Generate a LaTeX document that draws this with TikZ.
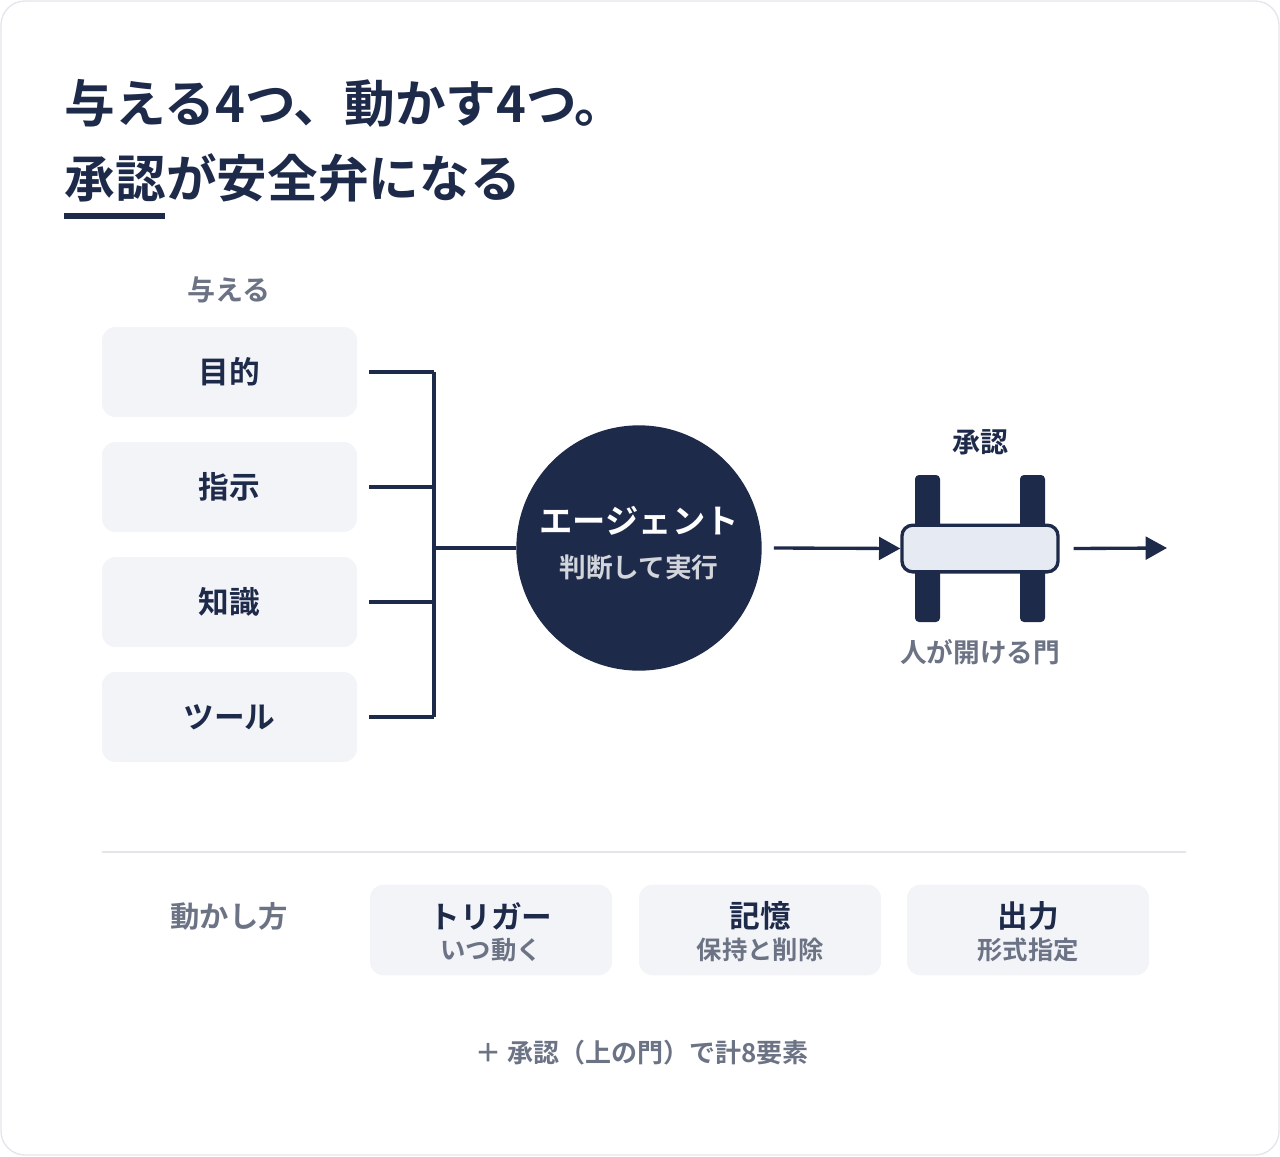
\documentclass[tikz,border=0pt]{standalone}
\usepackage{fontspec}
\setmainfont{Noto Sans CJK JP}
\newfontfamily\jpbold{Noto Sans CJK JP Bold}
\usetikzlibrary{positioning,calc,arrows.meta}
\definecolor{navy}{HTML}{1E2A4A}
\definecolor{muted}{HTML}{6B7385}
\definecolor{boxfill}{HTML}{F3F4F8}
\definecolor{barfill}{HTML}{E6EAF3}
\definecolor{rulegray}{HTML}{E3E5EA}
\newcommand{\fs}[1]{\fontsize{#1}{#1}\selectfont}
\tikzset{
  give/.style={rectangle,rounded corners=10pt,fill=boxfill,minimum width=191.25pt,minimum height=67.5pt,font=\jpbold\fs{23}\color{navy}},
  move/.style={rectangle,rounded corners=10pt,fill=boxfill,minimum width=181.5pt,minimum height=68pt,align=center},
  link/.style={navy,line width=2.5pt},
  arr/.style={navy,line width=2.5pt,-{Triangle[length=16pt,width=17pt]}},
  post/.style={fill=navy,rounded corners=3pt}
}
\begin{document}
\begin{tikzpicture}[x=0.75pt,y=-0.75pt]
\useasboundingbox (0,0) rectangle (1280,1156);
\draw[rulegray,line width=1pt,rounded corners=18pt] (1,1) rectangle (1279,1155);
% title
\node[anchor=west,font=\jpbold\fs{38},text=navy] (t1) at (60,103) {与える4つ、動かす4つ。};
\node[anchor=west,font=\jpbold\fs{38},text=navy] (t2) at (60,178) {承認が安全弁になる};
\fill[navy] (64,213) rectangle (165,219);
% give
\node[font=\jpbold\fs{21},text=muted] (givelbl) at (229,290) {与える};
\node[give] (goal) at (229.5,372) {目的};
\node[give] (inst) at (229.5,487) {指示};
\node[give] (know) at (229.5,602) {知識};
\node[give] (tool) at (229.5,717) {ツール};
\coordinate (bt) at (434,372);
\coordinate (bb) at (434,717);
\coordinate (bm) at (434,548);
\foreach \n in {goal,inst,know,tool}
  \draw[link] ($(\n.east)+(12,0)$) -- (\n.east -| bt);
\draw[link] (bt) -- (bb);
% agent
\node[circle,fill=navy,minimum size=184pt,inner sep=0pt] (agent) at (639,548) {};
\node[font=\jpbold\fs{25},text=white] (agentlbl) at (639,521) {エージェント};
\node[font=\jpbold\fs{20},text=barfill!80!gray] (agentsub) at (639,567) {判断して実行};
\draw[link] (bm) -- (agent.west);
% gate
\fill[post] (915,475) rectangle (940,622);
\fill[post] (1020,475) rectangle (1045,622);
\node[rectangle,rounded corners=8pt,fill=barfill,draw=navy,line width=2.5pt,minimum width=117pt,minimum height=35pt] (gate) at (980,548.5) {};
\node[font=\jpbold\fs{21},text=navy] (gatelbl) at (980,442) {承認};
\node[font=\jpbold\fs{20},text=muted] (gatesub) at (980,652) {人が開ける門};
\coordinate (out) at (1167,548);
\draw[arr] ($(agent.east)+(12,0)$) -- (gate.west);
\draw[arr] ($(gate.east)+(14,0)$) -- (out);
% move
\draw[rulegray,line width=1.5pt] (102,852) -- (1186,852);
\node[font=\jpbold\fs{22},text=muted] (movelbl) at (229,916) {動かし方};
\node[move] (trig) at (491,930) {};
\node[move] (mem) at (760,930) {};
\node[move] (outp) at (1028,930) {};
\foreach \n/\a/\b in {trig/トリガー/いつ動く,mem/記憶/保持と削除,outp/出力/形式指定}{
  \node[font=\jpbold\fs{23},text=navy] at ($(\n.center)+(0,-14)$) {\a};
  \node[font=\jpbold\fs{19},text=muted] at ($(\n.center)+(0,20)$) {\b};
}
\node[font=\jpbold\fs{19.5},text=muted] (foot) at (642,1053) {＋ 承認（上の門）で計8要素};
\end{tikzpicture}
\end{document}
